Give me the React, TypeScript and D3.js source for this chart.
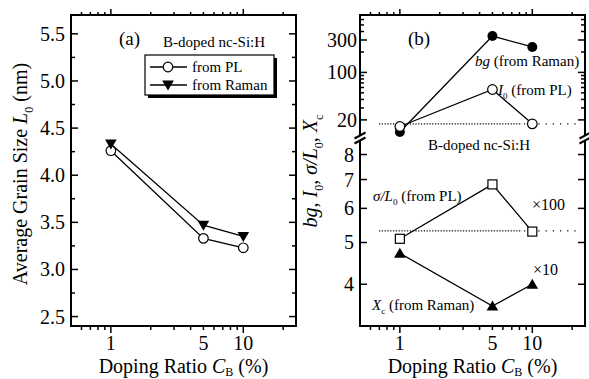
import React, { useEffect, useRef } from 'react';
import * as d3 from 'd3';

// doping ratio C_B (%) for every series
const dopingRatio = [1, 5, 10];
// panel (a): average grain size L0 (nm)
const grainPL = [4.26, 3.33, 3.23];
const grainRaman = [4.33, 3.47, 3.35];
// panel (b), upper part
const bgRaman = [13.3, 343, 237];
const i0PL = [16, 56, 17.5];
// panel (b), lower part
const sigmaPL = [5.1, 6.82, 5.3];
const xcRaman = [4.72, 3.56, 4.0];
// dotted reference lines
const refUpper = 17.5;
const refLower = 5.32;

const xTicks = [1, 5, 10];
const grainTicks = [2.5, 3.0, 3.5, 4.0, 4.5, 5.0, 5.5];
const grainMinor = [2.75, 3.25, 3.75, 4.25, 4.75, 5.25];
const upperTicks = [20, 100, 300];
const lowerTicks = [4, 5, 6, 7, 8];

const W = 589;
const H = 379;
const FONT = "'Liberation Serif', 'DejaVu Serif', serif";

type Part = { t: string; i?: boolean; sub?: boolean };

const richText = (parent: any, x: number, y: number, parts: Part[], size: number, anchor = 'start', rot = false, drop = 0.28) => {
  const txt = parent.append('text')
    .style('font-family', FONT)
    .style('font-size', `${size}px`)
    .attr('text-anchor', anchor)
    .attr('fill', '#000');
  if (rot) txt.attr('transform', `translate(${x},${y}) rotate(-90)`);
  else txt.attr('x', x).attr('y', y);
  let down = false;
  parts.forEach(p => {
    const ts = txt.append('tspan').text(p.t);
    if (p.i) ts.style('font-style', 'italic');
    if (p.sub) {
      ts.style('font-size', `${size * 0.6}px`);
      if (!down) ts.attr('dy', size * drop);
      down = true;
    } else if (down) {
      ts.attr('dy', -size * drop);
      down = false;
    }
  });
  return txt;
};

const label = (g: any, x: number, y: number, s: string, anchor: string) =>
  g.append('text').attr('x', x).attr('y', y).attr('text-anchor', anchor)
    .style('font-family', FONT).style('font-size', '20px').text(s);

const marker = (g: any, kind: string, x: number, y: number) => {
  if (kind === 'openCircle') {
    g.append('circle').attr('cx', x).attr('cy', y).attr('r', 4.8)
      .attr('fill', '#fff').attr('stroke', '#000').attr('stroke-width', 1.2);
  } else if (kind === 'dot') {
    g.append('circle').attr('cx', x).attr('cy', y).attr('r', 5).attr('fill', '#000');
  } else if (kind === 'down') {
    g.append('path').attr('d', `M${x - 5.8},${y - 4.5}L${x + 5.8},${y - 4.5}L${x},${y + 5.5}Z`).attr('fill', '#000');
  } else if (kind === 'up') {
    g.append('path').attr('d', `M${x - 5.8},${y + 4.5}L${x + 5.8},${y + 4.5}L${x},${y - 5.5}Z`).attr('fill', '#000');
  } else if (kind === 'square') {
    g.append('rect').attr('x', x - 4.5).attr('y', y - 4.5).attr('width', 9).attr('height', 9)
      .attr('fill', '#fff').attr('stroke', '#000').attr('stroke-width', 1.2);
  }
};

const series = (g: any, xs: any, ys: any, vals: number[], kind: string) => {
  const line = d3.line<number>().x((_, i) => xs(dopingRatio[i])).y(d => ys(d));
  g.append('path').attr('d', line(vals)).attr('fill', 'none').attr('stroke', '#000').attr('stroke-width', 1.3);
  vals.forEach((v, i) => marker(g, kind, xs(dopingRatio[i]), ys(v)));
};

const bottomAxis = (g: any, xs: any, yTop: number, yBot: number) => {
  xs.ticks().forEach((t: number) => {
    const px = xs(t);
    if (px <= xs.range()[0] + 1) return;
    const major = t === 1 || t === 10;
    const len = major ? 7 : 4;
    g.append('line').attr('x1', px).attr('x2', px).attr('y1', yBot).attr('y2', yBot + len)
      .attr('stroke', '#000').attr('stroke-width', 1.5);
    g.append('line').attr('x1', px).attr('x2', px).attr('y1', yTop).attr('y2', yTop - len + 1)
      .attr('stroke', '#000').attr('stroke-width', 1.5);
  });
  xTicks.forEach(t => label(g, xs(t), 350, String(t), 'middle'));
  const cx = (xs.range()[0] + xs.range()[1]) / 2;
  richText(g, cx, 373, [{ t: 'Doping Ratio ' }, { t: 'C', i: true }, { t: 'B', sub: true }, { t: ' (%)' }], 20, 'middle', false, 0.15);
};

const yTick = (g: any, x0: number, x1: number, y: number, len: number) => {
  g.append('line').attr('x1', x0).attr('x2', x0 + len).attr('y1', y).attr('y2', y).attr('stroke', '#000').attr('stroke-width', 1.5);
  g.append('line').attr('x1', x1).attr('x2', x1 - len).attr('y1', y).attr('y2', y).attr('stroke', '#000').attr('stroke-width', 1.5);
};

const App = () => {
  const ref = useRef<SVGSVGElement>(null);

  useEffect(() => {
    const svg = d3.select(ref.current);
    svg.selectAll('*').remove();
    const g = svg.append('g');
    const top = 15, bottom = 326;

    // ---------- panel (a) ----------
    const ax = d3.scaleLog().domain([0.5, 25]).range([71, 296]);
    const ay = d3.scaleLinear().domain([2.4, 5.7]).range([bottom, top]);

    g.append('rect').attr('x', 71).attr('y', top).attr('width', 225).attr('height', bottom - top)
      .attr('fill', 'none').attr('stroke', '#000').attr('stroke-width', 2);
    grainTicks.forEach(t => {
      yTick(g, 71, 296, ay(t), 7);
      label(g, 65, ay(t) + 7, t.toFixed(1), 'end');
    });
    grainMinor.forEach(t => yTick(g, 71, 296, ay(t), 4));
    bottomAxis(g, ax, top, bottom);
    richText(g, 27, 174, [{ t: 'Average Grain Size ' }, { t: 'L', i: true }, { t: '0', sub: true }, { t: ' (nm)' }], 20, 'middle', true);

    series(g, ax, ay, grainPL, 'openCircle');
    series(g, ax, ay, grainRaman, 'down');

    richText(g, 119, 45, [{ t: '(a)' }], 19);
    richText(g, 163, 47, [{ t: 'B-doped nc-Si:H' }], 15);

    // legend
    g.append('rect').attr('x', 148).attr('y', 58).attr('width', 129).attr('height', 40).attr('fill', '#000');
    g.append('rect').attr('x', 145).attr('y', 55).attr('width', 129).attr('height', 40)
      .attr('fill', '#fff').attr('stroke', '#000').attr('stroke-width', 1.2);
    [['from PL', 'openCircle', 67], ['from Raman', 'down', 85]].forEach(([name, kind, y]: any) => {
      g.append('line').attr('x1', 150).attr('x2', 187).attr('y1', y).attr('y2', y).attr('stroke', '#000').attr('stroke-width', 1.3);
      marker(g, kind, 168, y);
      richText(g, 192, y + 5, [{ t: name }], 15);
    });

    // ---------- panel (b) ----------
    const bx = d3.scaleLog().domain([0.5, 25]).range([360, 585]);
    const byU = d3.scaleLog().domain([12.4, 700]).range([134, top]);
    const byL = d3.scaleLog().domain([3.2, 8.6]).range([bottom, 141]);
    const L = 360, R = 585;

    const frame = (d: string) => g.append('path').attr('d', d).attr('fill', 'none').attr('stroke', '#000').attr('stroke-width', 2);
    frame(`M${L},135.5V${top}H${R}V135.5`);
    frame(`M${L},140.5V${bottom}H${R}V140.5`);
    [L, R].forEach(x => {
      g.append('path').attr('d', `M${x - 5.5},138.5L${x + 5.5},132.5L${x + 5.5},137.5L${x - 5.5},143.5Z`).attr('fill', '#fff');
      g.append('line').attr('x1', x - 5.5).attr('y1', 138.5).attr('x2', x + 5.5).attr('y2', 132.5).attr('stroke', '#000').attr('stroke-width', 2);
      g.append('line').attr('x1', x - 5.5).attr('y1', 143.5).attr('x2', x + 5.5).attr('y2', 137.5).attr('stroke', '#000').attr('stroke-width', 2);
    });

    byU.ticks().forEach((t: number) => {
      if (t < 20) return;
      yTick(g, L, R, byU(t), upperTicks.includes(t) ? 7 : 4);
    });
    upperTicks.forEach(t => label(g, 357, byU(t) + 7, String(t), 'end'));
    lowerTicks.forEach(t => {
      yTick(g, L, R, byL(t), 7);
      label(g, 354, byL(t) + 7, String(t), 'end');
    });
    bottomAxis(g, bx, top, bottom);
    richText(g, 317, 171, [
      { t: 'bg', i: true }, { t: ', ' }, { t: 'I', i: true }, { t: '0', sub: true }, { t: ', ' },
      { t: 'σ/L', i: true }, { t: '0', sub: true }, { t: ', ' }, { t: 'X', i: true }, { t: 'c', sub: true }, { t: '' },
    ], 20, 'middle', true);

    // dotted reference lines
    [byU(refUpper), byL(refLower)].forEach(y => {
      g.append('line').attr('x1', 379).attr('x2', 522).attr('y1', y).attr('y2', y)
        .attr('stroke', '#000').attr('stroke-width', 1.2).attr('stroke-dasharray', '1.2,1.6');
      g.append('line').attr('x1', 524).attr('x2', 576).attr('y1', y).attr('y2', y)
        .attr('stroke', '#000').attr('stroke-width', 1.2).attr('stroke-dasharray', '1.2,6');
    });

    series(g, bx, byU, bgRaman, 'dot');
    series(g, bx, byU, i0PL, 'openCircle');
    series(g, bx, byL, sigmaPL, 'square');
    series(g, bx, byL, xcRaman, 'up');

    richText(g, 408, 45, [{ t: '(b)' }], 19);
    richText(g, 475, 66, [{ t: 'bg', i: true }, { t: ' (from Raman)' }], 15);
    richText(g, 498, 95, [{ t: 'I', i: true }, { t: '0', sub: true }, { t: ' (from PL)' }], 15);
    richText(g, 428, 150, [{ t: 'B-doped nc-Si:H' }], 15);
    richText(g, 373, 201, [{ t: 'σ/L', i: true }, { t: '0', sub: true }, { t: ' (from PL)' }], 15);
    richText(g, 532, 210, [{ t: '×100' }], 16);
    richText(g, 533, 275, [{ t: '×10' }], 16);
    richText(g, 372, 310, [{ t: 'X', i: true }, { t: 'c', sub: true }, { t: ' (from Raman)' }], 15);
  }, []);

  return (
    <svg ref={ref} width={W} height={H}
      style={{ position: 'absolute', left: 0, top: 0, background: '#fff' }} />
  );
};

export default App;
